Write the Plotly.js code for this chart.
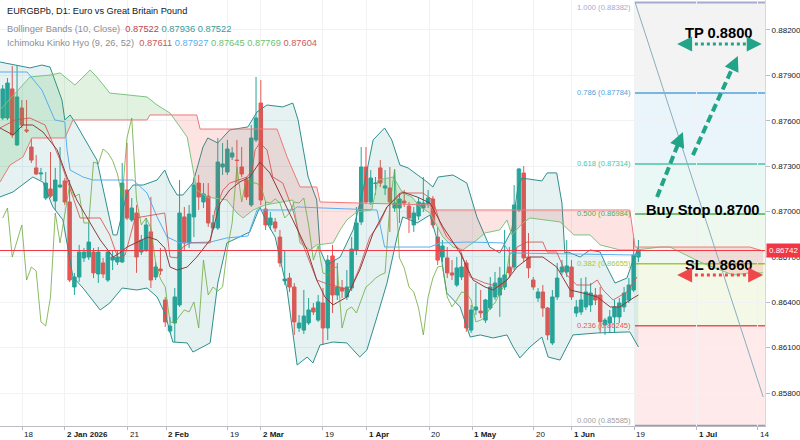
<!DOCTYPE html>
<html><head><meta charset="utf-8">
<script src="https://cdn.plot.ly/plotly-3.0.1.min.js"></script>
<style>html,body{margin:0;padding:0;background:#fff}#chart{width:800px;height:440px}</style>
</head><body><div id="chart"></div>
<script>
// ---- Candles (EURGBPb, D1) ----
const opens=[.87618,.87618,.87810,.87440,.87684,.87539,.87426,.87288,.87248,.87089,.87149,.87069,.87162,.87202,.87063,.86501,.86567,.86693,.86699,.86732,.86587,.86660,.86547,.86679,.86666,.86666,.87142,.86944,.86990,.86732,.86745,.86865,.86567,.86620,.86415,.86210,.86263,.86382,.86964,.86792,.86964,.87188,.87063,.87102,.86891,.86891,.87294,.87261,.87360,.87340,.87294,.87208,.87043,.87473,.87717,.87016,.86911,.86931,.86831,.86541,.86560,.86501,.86230,.86216,.86263,.86362,.86282,.86395,.86230,.86706,.86448,.86494,.86435,.86494,.86745,.86931,.87294,.87063,.87185,.87288,.87155,.87155,.87023,.87023,.87069,.87036,.86911,.86970,.87023,.87050,.87083,.86831,.86699,.86693,.86594,.86514,.86567,.86660,.86216,.86349,.86342,.86282,.86362,.86435,.86448,.86501,.86633,.86633,.87010,.87254,.86699,.86547,.86428,.86468,.86362,.86131,.86435,.86600,.86600,.86633,.86329,.86336,.86369,.86382,.86448,.86448,.86250,.86263,.86303,.86303,.86369,.86415,.86481,.86699];
const highs=[.87836,.87882,.87962,.87968,.87737,.87737,.87486,.87373,.87288,.87261,.87393,.87288,.87426,.87221,.87208,.86594,.86779,.86759,.86924,.86759,.86765,.86693,.86745,.86745,.86745,.87321,.87453,.87089,.87043,.86845,.86957,.87096,.86666,.86759,.86435,.86303,.86494,.87208,.87030,.87043,.87228,.87241,.87188,.87188,.86977,.87486,.87453,.87473,.87426,.87473,.87426,.87228,.87572,.87889,.87869,.87063,.86997,.86957,.86878,.86745,.86594,.86527,.86316,.86481,.86428,.86395,.86448,.86494,.86712,.86779,.86660,.86547,.86613,.86831,.87030,.87426,.87426,.87274,.87228,.87340,.87274,.87294,.87274,.87122,.87142,.87063,.87030,.87096,.87228,.87142,.87102,.86898,.86811,.86765,.86679,.86699,.86726,.86679,.86382,.86527,.86481,.86422,.86567,.86600,.86633,.86878,.86765,.87175,.87288,.87301,.86858,.86567,.86494,.86514,.86369,.86481,.86660,.86679,.86811,.86679,.86415,.86560,.86567,.86527,.86494,.86501,.86296,.86349,.86415,.86428,.86501,.86560,.86825,.86811];
const lows=[.87605,.87605,.87486,.87433,.87552,.87519,.87321,.87241,.87208,.87076,.87089,.87010,.87155,.87043,.86534,.86448,.86534,.86666,.86679,.86560,.86527,.86560,.86534,.86613,.86646,.86660,.86944,.86931,.86594,.86712,.86732,.86494,.86547,.86580,.86237,.86197,.86137,.86369,.86745,.86759,.86831,.87010,.87023,.86898,.86878,.86878,.87241,.87241,.87340,.87188,.87228,.87076,.87030,.87459,.87043,.86878,.86878,.86865,.86633,.86514,.86468,.86184,.86204,.86190,.86250,.86316,.86270,.86117,.86150,.86329,.86415,.86428,.86415,.86474,.86712,.86911,.87050,.87043,.87109,.87162,.87109,.86865,.86997,.86924,.87030,.86858,.86865,.86944,.86997,.87023,.86891,.86646,.86666,.86560,.86547,.86501,.86547,.86204,.86197,.86316,.86296,.86263,.86349,.86415,.86303,.86481,.86567,.86613,.86997,.86666,.86560,.86481,.86402,.86303,.86150,.86117,.86415,.86580,.86567,.86415,.86303,.86316,.86349,.86336,.86382,.86197,.86184,.86197,.86197,.86263,.86336,.86395,.86468,.86666];
const closes=[.87810,.87849,.87506,.87757,.87572,.87532,.87340,.87248,.87254,.87188,.87102,.87208,.87175,.87063,.86547,.86567,.86732,.86732,.86798,.86594,.86732,.86587,.86732,.86699,.86699,.87188,.86957,.87023,.86699,.86811,.86911,.86547,.86633,.86607,.86270,.86243,.86435,.86990,.86792,.86983,.87175,.87096,.87116,.86924,.86924,.87327,.87314,.87413,.87387,.87337,.87248,.87096,.87486,.87618,.87076,.86911,.86957,.86891,.86660,.86554,.86501,.86270,.86263,.86309,.86349,.86336,.86402,.86230,.86679,.86448,.86501,.86474,.86501,.86752,.86924,.87294,.87063,.87221,.87188,.87188,.87169,.87063,.87056,.87083,.87056,.86957,.86990,.87063,.87056,.87089,.86911,.86679,.86772,.86594,.86580,.86627,.86633,.86230,.86349,.86369,.86329,.86415,.86501,.86527,.86560,.86580,.86594,.87043,.87281,.86693,.86627,.86501,.86468,.86362,.86184,.86435,.86560,.86633,.86640,.86435,.86369,.86415,.86468,.86461,.86415,.86270,.86282,.86303,.86369,.86395,.86461,.86514,.86712,.86742];

// ---- Bollinger Bands (10, Close) ----
const bbUpperX=[-0.56,1.53,5.7,8.2,9.9,12.4,13.0,14.1,15.1,19.7,23.1,23.9,25.0,26.0,27.3,29.4,32.3,33.9,35.0,36.5,37.7,39.8,41.9,42.9,45.0,47.5,51.3,53.2,55.3,58.6,60.7,61.8,63.9,65.7,66.4,67.8,70.6,73.3,75.4,77.5,79.9,81.4,83.1,84.8,88.8,90.0,91.1,94.2,97.1,99.2,101.9,104.0,105.1,106.5,107.8,108.6,112.8,113.9,115.9,117.0,117.6,118.3,120.8,122.9,125.0,126.4,128.1,130.6,131.9,133.0];
const bbUpper=[.87988,.87975,.87949,.87968,.87955,.87737,.87605,.87638,.87592,.87340,.86845,.86845,.86990,.87122,.87175,.87175,.87208,.87274,.87188,.87109,.87109,.87188,.87426,.87486,.87453,.87539,.87559,.87658,.87704,.87691,.87717,.87605,.87228,.87076,.86746,.86646,.86699,.86878,.87142,.87473,.87552,.87473,.87307,.87288,.87195,.87162,.87228,.87241,.87188,.86964,.86765,.86726,.86792,.86878,.87162,.87221,.87202,.87255,.87255,.87056,.86726,.86732,.86699,.86746,.86732,.86633,.86527,.86560,.86679,.86765];
const bbLowerX=[-0.56,2.15,6.3,8.4,10.5,12.6,14.7,16.8,20.4,22.4,25.0,28.1,30.2,32.3,33.9,35.6,38.6,39.8,43.4,45.0,46.9,51.7,53.8,55.3,57.0,59.5,61.6,63.7,64.9,66.4,69.1,72.0,74.7,76.2,78.3,80.4,82.5,83.7,86.7,89.4,91.5,92.9,95.7,97.8,99.9,102.6,105.5,106.8,108.2,110.3,112.8,114.1,116.6,119.3,124.4,131.2,133.0];
const bbLower=[.87096,.87129,.87228,.87195,.87030,.86944,.86567,.86494,.86349,.86395,.86494,.86481,.86494,.86435,.86329,.86137,.86131,.86071,.86131,.86527,.86792,.86865,.87030,.86924,.86831,.86481,.85985,.86038,.85999,.86118,.86137,.86131,.86038,.86085,.86303,.86527,.86831,.86964,.86924,.86977,.86746,.86461,.86369,.86170,.86184,.86164,.86184,.86104,.86032,.86104,.86170,.86038,.86018,.86184,.86197,.86204,.86104];
const bbBasisX=[-0.56,2.15,4.25,6.3,8.4,11.4,13.45,15.5,18.3,20.4,23.1,24.5,26.0,28.1,30.4,32.3,33.9,35.0,36.5,38.6,40.6,43.4,45.5,47.5,49.6,51.7,53.8,55.9,58.0,60.7,63.7,65.7,67.4,69.1,72.0,74.7,77.5,80.4,83.7,86.7,89.4,92.1,95.7,98.4,100.9,102.6,105.5,107.6,110.3,113.0,115.9,118.7,121.4,124.4,127.1,129.1,131.9,133.0];
const bbBasis=[.87552,.87506,.87572,.87572,.87526,.87407,.87228,.87076,.86924,.86812,.86699,.86726,.86765,.86798,.86831,.86812,.86759,.86633,.86613,.86633,.86699,.86812,.87056,.87142,.87195,.87228,.87327,.87255,.87122,.86944,.86746,.86547,.86435,.86382,.86435,.86613,.86858,.87030,.87129,.87096,.87056,.86898,.86726,.86547,.86501,.86481,.86547,.86633,.86699,.86699,.86633,.86481,.86461,.86435,.86369,.86369,.86428,.86448];

// ---- Ichimoku Kinko Hyo (9, 26, 52) ----
const tenkanX=[-0.56,2.6,5.7,8.85,12.0,14.1,16.2,20.4,22.4,24.1,25.6,27.7,33.9,35.0,36.5,37.7,39.2,43.4,44.4,46.1,47.5,51.1,52.2,52.8,53.8,55.3,56.5,58.6,60.7,62.2,64.3,65.7,67.4,72.7,74.7,76.8,78.9,80.4,83.1,87.9,90.0,91.5,92.9,95.7,97.8,100.9,104.0,106.1,107.6,109.7,113.0,113.9,115.9,118.0,120.1,122.9,124.4,125.6,127.7,130.6,132.7];
const tenkan=[.87552,.87605,.87618,.87572,.87340,.87142,.86957,.86957,.86845,.86693,.86712,.86957,.86990,.86699,.86693,.86765,.86792,.86792,.87010,.87142,.87188,.87228,.87274,.87407,.87453,.87407,.87228,.87188,.87010,.86831,.86660,.86547,.86527,.86481,.86633,.86831,.86924,.87030,.87122,.87122,.87076,.86924,.86831,.86746,.86567,.86527,.86501,.86567,.86765,.86798,.86798,.86732,.86732,.86580,.86514,.86514,.86547,.86481,.86415,.86468,.86567];
const kijunX=[-0.56,5.1,8.2,10.9,13.0,13.45,14.1,16.8,18.9,27.3,30.2,32.3,34.4,37.1,43.4,46.9,51.3,53.2,60.7,61.6,67.0,78.3,79.9,89.4,91.5,97.1,104.7,106.1,133.0];
const kijun=[.87922,.87922,.87803,.87605,.87592,.87407,.87274,.87228,.87208,.87208,.87122,.86964,.86831,.86792,.86798,.86825,.86838,.87010,.87010,.87030,.87023,.87010,.86765,.86765,.86792,.86798,.86792,.86726,.86712];
const spanAX=[-0.56,5.7,9.9,12.0,15.1,18.3,19.7,22.4,30.2,32.3,35.0,38.6,40.6,42.7,46.9,49.0,50.3,52.4,54.9,58.0,60.7,62.2,64.3,65.7,69.1,70.6,72.0,74.1,77.2,78.5,81.7,83.7,85.6,87.3,89.4,92.1,94.2,96.3,99.2,100.9,104.0,105.5,106.5,108.8,110.3,116.6,119.5,122.9,125.0,129.1,132.7,137.5,139.6,145.9,150.1,152.8,156.3,159.1];
const spanA=[.87671,.87889,.87902,.87916,.87836,.87935,.87889,.87783,.87757,.87704,.87651,.87492,.87142,.87096,.87076,.86990,.86957,.87010,.87043,.87063,.87076,.86792,.86746,.86779,.86792,.86878,.86944,.86997,.87010,.87208,.87228,.87122,.87096,.87030,.86990,.86831,.86765,.86746,.86812,.86858,.86878,.86944,.86845,.86924,.86957,.86931,.86845,.86845,.86779,.86746,.86746,.86765,.86765,.86666,.86613,.86580,.86594,.86594];
const spanBX=[-0.56,1.53,4.25,6.1,13.0,14.7,30.2,30.8,40.6,41.3,57.4,59.5,62.2,65.7,66.4,89.4,90.0,131.2,132.3,156.3,159.1];
const spanB=[.87195,.87307,.87360,.87486,.87486,.87605,.87605,.87638,.87638,.87545,.87545,.87360,.87162,.87162,.87063,.87043,.87010,.87010,.86765,.86765,.86739];
const chikouShift=26;

// ---- Axis ticks ----
const xTickIdx=[4.04,13.03,26.2,34.2,47.1,54.0,67.0,76.2,89.2,98.2,111.1,119.1,132.1,145.2,158.0];
const xTickText=['18','2 Jan 2026','21','2 Feb','19','2 Mar','19','1 Apr','20','1 May','20','1 Jun','19','1 Jul','14'];
const xTickBold=[0,1,0,1,0,1,0,1,0,1,0,1,0,1,0];
const yTickVals=[0.858,0.861,0.864,0.867,0.870,0.873,0.876,0.879,0.882];

// ---- Fibonacci retracement drawing ----
const fibRatios=['1.000','0.786','0.618','0.500','0.382','0.236','0.000'];
const fibPrices=[0.88382,0.87784,0.87314,0.86984,0.86655,0.86245,0.85585];
const fibLineColors=['#a9a9d0','#4ea3dc','#45c9a0','#4caf50','#9dc93c','#ef5350','#9e9e9e'];
const fibFillColors=['rgba(140,140,150,0.10)','rgba(41,150,220,0.10)','rgba(20,175,140,0.09)','rgba(76,175,80,0.09)','rgba(165,205,60,0.12)','rgba(242,54,69,0.11)'];
const fibRange=[132.1,159.5];
const fibTrend={x:[132.3,159.1],y:[0.88382,0.85774]};
const lastPrice=0.86742;

// ---- Trade idea drawings ----
const tpLevel={x:[141.1,158.8],y:0.88107,label:'TP 0.8800',lx:149.8,ly:0.88180};
const slLevel={x:[141.1,159.1],y:0.86580,label:'SL 0.8660',lx:149.8,ly:0.86646};
const buyStop={label:'Buy Stop 0.8700',lx:146.5,ly:0.87010};
const arrowUp1={x:[136.9,142.3],y:[0.87096,0.87526]};
const arrowUp2={x:[144.4,153.8],y:[0.87373,0.88028]};

const teal='#21a487', redA='#f0474a';
const barIdx=opens.map((_,i)=>i);

// cloud fill polygons (green where span A above span B, red otherwise)
function interp(xs,ys,x){ if(x<=xs[0])return ys[0]; for(let i=1;i<xs.length;i++){ if(x<=xs[i]){const t=(x-xs[i-1])/(xs[i]-xs[i-1]);return ys[i-1]+t*(ys[i]-ys[i-1]);} } return ys[ys.length-1]; }
const ux=Array.from(new Set(spanAX.concat(spanBX))).sort((a,b)=>a-b);
const ua=ux.map(x=>interp(spanAX,spanA,x)), ub=ux.map(x=>interp(spanBX,spanB,x));
const gPoly={x:[],y:[]}, rPoly={x:[],y:[]};
function flush(r){const t=r.s>=0?gPoly:rPoly; t.x.push(...r.xs,...r.xs.slice().reverse(),null); t.y.push(...r.as,...r.bs.slice().reverse(),null);}
let run={xs:[ux[0]],as:[ua[0]],bs:[ub[0]],s:Math.sign(ua[0]-ub[0])};
for(let i=1;i<ux.length;i++){
  const s=Math.sign(ua[i]-ub[i]);
  if(s!==0&&run.s!==0&&s!==run.s){
    const d0=ua[i-1]-ub[i-1], d1=ua[i]-ub[i], t=d0/(d0-d1);
    const cx=ux[i-1]+t*(ux[i]-ux[i-1]), cy=ua[i-1]+t*(ua[i]-ua[i-1]);
    run.xs.push(cx);run.as.push(cy);run.bs.push(cy);flush(run);
    run={xs:[cx],as:[cy],bs:[cy],s:s};
  } else if(run.s===0) run.s=s;
  run.xs.push(ux[i]);run.as.push(ua[i]);run.bs.push(ub[i]);
}
flush(run);

const ln=(x,y,color,w,extra)=>Object.assign({type:'scatter',mode:'lines',x:x,y:y,line:{color:color,width:w||1},hoverinfo:'skip',showlegend:false},extra||{});
const traces=[
  ln(bbLowerX,bbLower,'#2f8f8c',1),
  ln(bbUpperX,bbUpper,'#2f8f8c',1,{fill:'tonexty',fillcolor:'rgba(40,150,140,0.12)'}),
  {type:'scatter',mode:'none',x:gPoly.x,y:gPoly.y,fill:'toself',fillcolor:'rgba(76,175,80,0.17)',hoverinfo:'skip',showlegend:false},
  {type:'scatter',mode:'none',x:rPoly.x,y:rPoly.y,fill:'toself',fillcolor:'rgba(244,67,54,0.14)',hoverinfo:'skip',showlegend:false},
  ln(spanAX,spanA,'#7cc47f',1),
  ln(spanBX,spanB,'#ef7878',1),
  ln(barIdx.slice(chikouShift).map(i=>i-chikouShift),closes.slice(chikouShift),'rgba(110,170,60,0.8)',1),
  ln(kijunX,kijun,'#5aaef0',1),
  ln(tenkanX,tenkan,'rgba(215,80,78,0.85)',1),
  ln(bbBasisX,bbBasis,'#8d3b3b',1),
  {type:'candlestick',x:barIdx,open:opens,high:highs,low:lows,close:closes,
   increasing:{line:{color:'#26a69a',width:1},fillcolor:'#26a69a'},
   decreasing:{line:{color:'#ef5350',width:1},fillcolor:'#ef5350'},
   whiskerwidth:0,hoverinfo:'skip',showlegend:false}
];

const shapes=[];
for(let k=0;k<fibFillColors.length;k++){
  shapes.push({type:'rect',xref:'x',yref:'y',x0:fibRange[0],x1:fibRange[1],y0:fibPrices[k+1],y1:fibPrices[k],fillcolor:fibFillColors[k],line:{width:0},layer:'below'});
}
fibPrices.forEach((p,k)=>shapes.push({type:'line',xref:'x',yref:'y',x0:fibRange[0],x1:fibRange[1],y0:p,y1:p,line:{color:fibLineColors[k],width:k===0?2:1.5},layer:'below'}));
shapes.push({type:'line',xref:'x',yref:'y',x0:fibTrend.x[0],x1:fibTrend.x[1],y0:fibTrend.y[0],y1:fibTrend.y[1],line:{color:'#8aaebb',width:1}});
shapes.push({type:'line',xref:'paper',yref:'y',x0:0,x1:1,y0:lastPrice,y1:lastPrice,line:{color:'#f23645',width:1}});
shapes.push({type:'line',xref:'x',yref:'y',x0:tpLevel.x[0]+1.2,x1:tpLevel.x[1]-1.2,y0:tpLevel.y,y1:tpLevel.y,line:{color:teal,width:3,dash:'3px,3px'}});
shapes.push({type:'line',xref:'x',yref:'y',x0:slLevel.x[0]+1.2,x1:slLevel.x[1]-1.2,y0:slLevel.y,y1:slLevel.y,line:{color:redA,width:3,dash:'3px,3px'}});
[arrowUp1,arrowUp2].forEach(a=>shapes.push({type:'line',xref:'x',yref:'y',x0:a.x[0],x1:a.x[0]+(a.x[1]-a.x[0])*0.9,y0:a.y[0],y1:a.y[0]+(a.y[1]-a.y[0])*0.9,line:{color:teal,width:4,dash:'8px,4px'}}));

const FONT='Liberation Sans, Arial, sans-serif';
const ann=[];
// header
ann.push({xref:'paper',yref:'paper',x:0.007,y:0.974,xanchor:'left',yanchor:'middle',showarrow:false,text:'EURGBPb, D1: Euro vs Great Britain Pound',font:{family:FONT,size:9.2,color:'#131722'}});
ann.push({xref:'paper',yref:'paper',x:0.007,y:0.932,xanchor:'left',yanchor:'middle',showarrow:false,
  text:'Bollinger Bands (10, Close)  <span style="color:#b5474b">0.87522</span> <span style="color:#3a9b9b">0.87936</span> <span style="color:#3a9b9b">0.87522</span>',font:{family:FONT,size:9.3,color:'#8a8d96'}});
ann.push({xref:'paper',yref:'paper',x:0.007,y:0.898,xanchor:'left',yanchor:'middle',showarrow:false,
  text:'Ichimoku Kinko Hyo (9, 26, 52)  <span style="color:#c9585a">0.87611</span> <span style="color:#5aaff0">0.87927</span> <span style="color:#6cbf6c">0.87645</span> <span style="color:#6cbf6c">0.87769</span> <span style="color:#d05a5a">0.87604</span>',font:{family:FONT,size:9.3,color:'#8a8d96'}});
// x labels
xTickIdx.forEach((v,i)=>ann.push({xref:'x',yref:'paper',x:v,y:0,yshift:-2,xanchor:'left',yanchor:'top',showarrow:false,
  text:xTickBold[i]?'<b>'+xTickText[i]+'</b>':xTickText[i],font:{family:FONT,size:8,color:'#131722'}}));
// fib labels
fibPrices.forEach((p,k)=>ann.push({xref:'x',yref:'y',x:131.8,y:p,xanchor:'right',yanchor:k===0?'top':(k===6?'bottom':'middle'),yshift:k===0?1:(k===6?-1:0),showarrow:false,
  text:fibRatios[k]+' ('+p.toFixed(5)+')',font:{family:FONT,size:7.6,color:fibLineColors[k]}}));
// price label
ann.push({xref:'paper',yref:'y',x:1,xshift:1,y:lastPrice,xanchor:'left',yanchor:'middle',showarrow:false,text:lastPrice.toFixed(5),
  bgcolor:'#f23645',borderpad:2,font:{family:FONT,size:8,color:'#ffffff'}});
// trade text
[[tpLevel.label,tpLevel.lx,tpLevel.ly],[buyStop.label,buyStop.lx,buyStop.ly],[slLevel.label,slLevel.lx,slLevel.ly]].forEach(t=>
  ann.push({xref:'x',yref:'y',x:t[1],y:t[2],xanchor:'center',yanchor:'middle',showarrow:false,text:'<b>'+t[0]+'</b>',font:{family:FONT,size:14.7,color:'#000000'}}));
// arrow heads
function head(x,y,ax,ay,color){ann.push({xref:'x',yref:'y',x:x,y:y,ax:ax,ay:ay,text:'',showarrow:true,arrowhead:2,arrowsize:1,arrowwidth:3,arrowcolor:color,standoff:0});}
head(tpLevel.x[0],tpLevel.y,9,0,teal); head(tpLevel.x[1],tpLevel.y,-9,0,teal);
head(slLevel.x[0],slLevel.y,9,0,redA); head(slLevel.x[1],slLevel.y,-9,0,redA);
head(arrowUp1.x[1],arrowUp1.y[1],-4.5,11,teal);
head(arrowUp2.x[1],arrowUp2.y[1],-5,11,teal);

const layout={
  width:800,height:440,margin:{l:0,r:35,t:0,b:14},
  paper_bgcolor:'#ffffff',plot_bgcolor:'#ffffff',showlegend:false,hovermode:false,dragmode:false,
  boxgap:0.2,boxgroupgap:0.1,
  font:{family:FONT,size:8,color:'#131722'},
  xaxis:{range:[-0.565,159.48],tickvals:xTickIdx,showticklabels:false,showgrid:true,gridcolor:'#f0f2f5',gridwidth:1,
    zeroline:false,showline:true,linecolor:'#b8bbc4',linewidth:1,ticks:'outside',ticklen:3,tickcolor:'#b8bbc4',rangeslider:{visible:false},fixedrange:true},
  yaxis:{range:[0.85582,0.88398],side:'right',tickvals:yTickVals,tickformat:'.5f',showgrid:true,gridcolor:'#f0f2f5',zeroline:false,
    showline:true,linecolor:'#d6d8de',ticks:'outside',ticklen:4,tickcolor:'#b8bbc4',tickfont:{family:FONT,size:8,color:'#131722'},fixedrange:true},
  shapes:shapes,annotations:ann
};
Plotly.newPlot('chart',traces,layout,{staticPlot:true,displayModeBar:false});
</script></body></html>
